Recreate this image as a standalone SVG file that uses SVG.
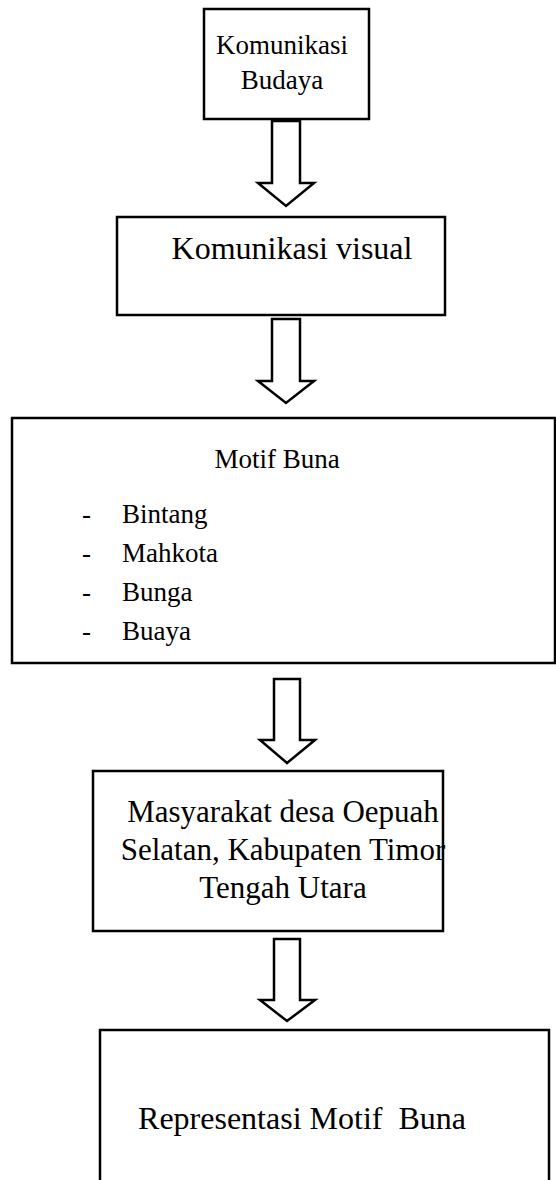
<svg xmlns="http://www.w3.org/2000/svg" width="556" height="1180" viewBox="0 0 556 1180">
<style>
.box{fill:#fff;stroke:#000;stroke-width:2.5}
.arr{fill:#fff;stroke:#000;stroke-width:2.5;stroke-linejoin:miter}
text{font-family:"Liberation Serif","Times New Roman",serif;font-size:31px;fill:#000;white-space:pre}
.s{font-size:27px}
.l{font-size:32px}
.c{text-anchor:middle}
</style>
<rect width="556" height="1180" fill="#fff"/>
<g id="connectors">
<polygon class="arr" points="272,121 300,121 300,183 314,183 286,206 258,183 272,183"/>
<polygon class="arr" points="272,319 300,319 300,381 314,381 286,403 258,381 272,381"/>
<polygon class="arr" points="274,679 300,679 300,740 315,740 287,763 260,740 274,740"/>
<polygon class="arr" points="274,939 300,939 300,1000 315,1000 287,1021 260,1000 274,1000"/>
</g>
<g id="n1"><rect class="box" x="204" y="9" width="165" height="110"/>
<text class="c s" x="282" y="54">Komunikasi</text><text class="c s" x="282" y="89">Budaya</text></g>
<g id="n2"><rect class="box" x="117" y="217" width="328" height="98"/>
<text class="c l" x="292" y="259">Komunikasi visual</text></g>
<g id="n3"><rect class="box" x="12" y="418" width="543" height="245"/>
<text class="c s" x="277" y="468">Motif Buna</text>
<text class="s" x="82" y="523">-</text><text class="s" x="122" y="523">Bintang</text>
<text class="s" x="82" y="562">-</text><text class="s" x="122" y="562">Mahkota</text>
<text class="s" x="82" y="601">-</text><text class="s" x="122" y="601">Bunga</text>
<text class="s" x="82" y="640">-</text><text class="s" x="122" y="640">Buaya</text></g>
<g id="n4"><rect class="box" x="93" y="771" width="350" height="160"/>
<text class="c" x="283" y="822">Masyarakat desa Oepuah</text>
<text class="c" x="283" y="860">Selatan, Kabupaten Timor</text>
<text class="c" x="283" y="898">Tengah Utara</text></g>
<g id="n5"><path class="box" d="M100,1182 V1030 H549 V1182"/>
<text class="c l" x="302" y="1129">Representasi Motif  Buna</text></g>
</svg>
